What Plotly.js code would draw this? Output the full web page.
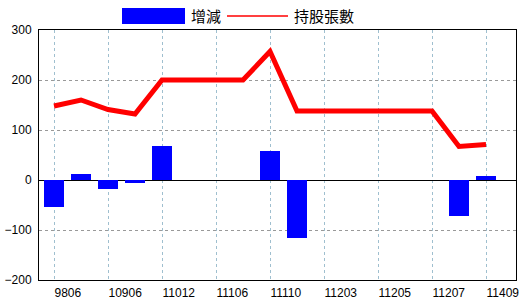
<!DOCTYPE html>
<html>
<head>
<meta charset="utf-8">
<script src="https://cdn.plot.ly/plotly-3.0.1.min.js"></script>
<style>html,body{margin:0;padding:0;background:#fff;}#chart{width:520px;height:300px;}</style>
</head>
<body>
<div id="chart"></div>
<script>
// Periods (ROC year + month); only every other one is labelled on the axis
const categories = ['9806','10812','10906','10909','11012','11103','11106','11108','11110','11112','11203','11204','11205','11206','11207','11312','11409'];
const tickLabels = ['9806','10906','11012','11106','11110','11203','11205','11207','11409'];
const changeValues = [-53, 12, -17, -5, 68, 0, 0, 0, 58, -115, 0, 0, 0, 0, 0, -71, 8];
const holdingValues = [148, 160, 141, 132, 200, 200, 200, 200, 257, 138, 138, 138, 138, 138, 138, 67, 71];
const seriesNames = ['增減', '持股張數'];

const tickVals = categories.filter((c, i) => i % 2 === 0);

const traces = [
  {
    type: 'bar', x: categories, y: changeValues, name: seriesNames[0],
    marker: {color: '#0000FF', line: {width: 0}}, width: 0.74, showlegend: false,
    hoverinfo: 'x+y'
  },
  {
    type: 'scatter', mode: 'lines', x: categories, y: holdingValues, name: seriesNames[1],
    line: {color: '#FF0000', width: 5}, showlegend: false
  }
];

const cjk = '"Noto Sans CJK TC", "Noto Sans CJK SC", sans-serif';
const L = 39, R = 516, T = 30, B = 280;
const px = x => (x - L) / (R - L);
const py = y => (B - y) / (B - T);

const layout = {
  width: 520, height: 300,
  margin: {l: L, r: 520 - R, t: T, b: 300 - B, pad: 0},
  paper_bgcolor: '#ffffff', plot_bgcolor: '#ffffff',
  font: {family: '"Liberation Sans", Arial, sans-serif', size: 12, color: '#000'},
  bargap: 0,
  xaxis: {
    type: 'category', categoryorder: 'array', categoryarray: categories,
    range: [-15 / 27, 16 + 30 / 27],
    tickvals: tickVals, ticktext: tickLabels,
    ticklabelposition: 'outside right', ticks: '', ticklabelstandoff: 2,
    showgrid: true, gridcolor: '#9fbfcf', griddash: 'dot', gridwidth: 1,
    showline: true, linecolor: '#000', linewidth: 1, mirror: true,
    zeroline: false, tickfont: {size: 12}
  },
  yaxis: {
    range: [-200, 300], dtick: 100, tick0: 0,
    ticks: '', ticklabelstandoff: 4,
    showgrid: true, gridcolor: '#999999', griddash: 'dot', gridwidth: 1,
    zeroline: true, zerolinecolor: '#000', zerolinewidth: 1,
    showline: true, linecolor: '#000', linewidth: 1, mirror: true,
    tickfont: {size: 12}
  },
  shapes: [
    {type: 'rect', xref: 'paper', yref: 'paper', x0: px(122), x1: px(185), y0: py(24), y1: py(8),
     fillcolor: '#0000FF', line: {width: 0}},
    {type: 'line', xref: 'paper', yref: 'paper', x0: px(227), x1: px(288), y0: py(16), y1: py(16),
     line: {color: '#FF0000', width: 1.5}}
  ],
  annotations: [
    {xref: 'paper', yref: 'paper', x: px(189), y: py(16), xanchor: 'left', yanchor: 'middle',
     text: seriesNames[0], showarrow: false, font: {family: cjk, size: 15, color: '#000'}},
    {xref: 'paper', yref: 'paper', x: px(292), y: py(16), xanchor: 'left', yanchor: 'middle',
     text: seriesNames[1], showarrow: false, font: {family: cjk, size: 15, color: '#000'}}
  ],
  showlegend: false
};

Plotly.newPlot('chart', traces, layout, {displayModeBar: false, staticPlot: true});
</script>
</body>
</html>
